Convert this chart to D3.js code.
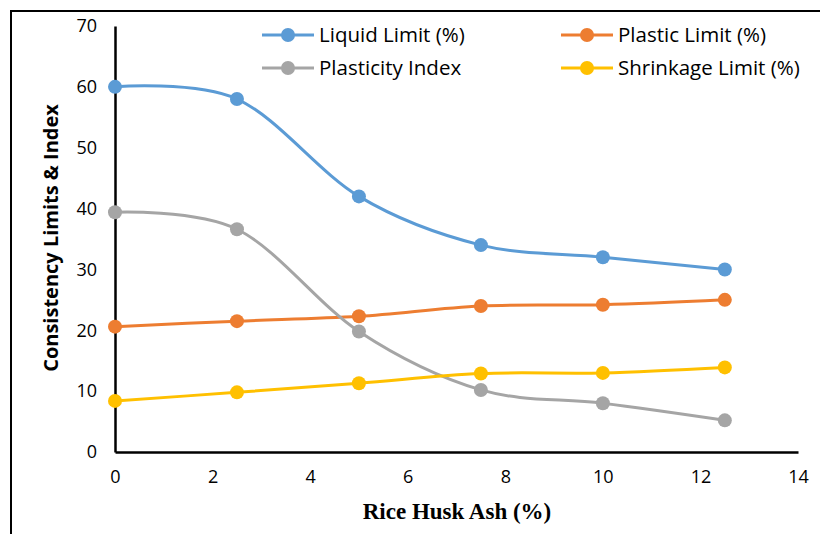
<!DOCTYPE html>
<html>
<head>
<meta charset="utf-8">
<script src="https://cdn.jsdelivr.net/npm/d3@7"></script>
<style>
  body { margin: 0; background: #fff; }
  svg { display: block; }
</style>
</head>
<body>
<div id="chart"></div>
<script>
// Consistency limits vs rice husk ash content
const rhaContent = [0, 2.5, 5, 7.5, 10, 12.5];
const liquidLimit = [60, 58, 42, 34, 32, 30];
const plasticLimit = [20.6, 21.5, 22.3, 24.0, 24.2, 25.0];
const plasticityIndex = [39.4, 36.6, 19.8, 10.2, 8.0, 5.2];
const shrinkageLimit = [8.4, 9.8, 11.3, 12.9, 13.0, 13.9];
const seriesNames = ["Liquid Limit (%)", "Plastic Limit (%)", "Plasticity Index", "Shrinkage Limit (%)"];
const seriesColors = ["#5B9BD5", "#ED7D31", "#A5A5A5", "#FFC000"];
const xTicks = [0, 2, 4, 6, 8, 10, 12, 14];
const yTicks = [0, 10, 20, 30, 40, 50, 60, 70];

const W = 820, H = 534;
const margin = { top: 26, right: 22, bottom: 82, left: 115 };
const width = W - margin.left - margin.right;
const height = H - margin.top - margin.bottom;

const svg = d3.select("#chart").append("svg")
    .attr("width", W)
    .attr("height", H);

// outer frame
svg.append("rect")
    .attr("x", 11).attr("y", 11)
    .attr("width", W + 20).attr("height", H + 20)
    .attr("fill", "none")
    .attr("stroke", "#000")
    .attr("stroke-width", 2);

const g = svg.append("g")
    .attr("transform", `translate(${margin.left},${margin.top})`);

const x = d3.scaleLinear().domain([0, 14]).range([0, width]);
const y = d3.scaleLinear().domain([0, 70]).range([height, 0]);

const tickFont = "'Open Sans', sans-serif";

// axes
const xAxis = g.append("g")
    .attr("transform", `translate(0,${height})`)
    .call(d3.axisBottom(x).tickValues(xTicks).tickSize(0).tickPadding(18).tickFormat(d3.format("d")));
xAxis.select(".domain").attr("stroke", "#000").attr("stroke-width", 2.5);
xAxis.selectAll("text")
    .style("font-family", tickFont).style("font-size", "18px").attr("fill", "#000");

const yAxis = g.append("g")
    .call(d3.axisLeft(y).tickValues(yTicks).tickSize(0).tickPadding(18).tickFormat(d3.format("d")));
yAxis.select(".domain").attr("stroke", "#000").attr("stroke-width", 2.5);
yAxis.selectAll("text")
    .style("font-family", tickFont).style("font-size", "18px").attr("fill", "#000");

// series
const allSeries = [liquidLimit, plasticLimit, plasticityIndex, shrinkageLimit].map((vals, i) => ({
    name: seriesNames[i],
    color: seriesColors[i],
    values: vals.map((v, j) => ({ x: rhaContent[j], y: v }))
}));

const line = d3.line()
    .x(d => x(d.x))
    .y(d => y(d.y))
    .curve(d3.curveCatmullRom.alpha(0));

// draw in Excel order so later series sit on top
allSeries.forEach(s => {
    g.append("path")
        .datum(s.values)
        .attr("fill", "none")
        .attr("stroke", s.color)
        .attr("stroke-width", 3)
        .attr("d", line);
    g.selectAll(null)
        .data(s.values)
        .enter().append("circle")
        .attr("cx", d => x(d.x))
        .attr("cy", d => y(d.y))
        .attr("r", 7)
        .attr("fill", s.color);
});

// legend
const legendPos = [[262, 35], [561, 35], [262, 68], [561, 68]];
allSeries.forEach((s, i) => {
    const [lx, ly] = legendPos[i];
    const lg = svg.append("g").attr("transform", `translate(${lx},${ly})`);
    lg.append("line")
        .attr("x1", 0).attr("x2", 52)
        .attr("stroke", s.color).attr("stroke-width", 3);
    lg.append("circle").attr("cx", 26).attr("r", 7).attr("fill", s.color);
    lg.append("text")
        .attr("x", 57).attr("dy", "0.36em")
        .style("font-family", tickFont).style("font-size", "20.5px")
        .attr("fill", "#000")
        .text(s.name);
});

// axis titles
svg.append("text")
    .attr("x", 457)
    .attr("y", 519)
    .attr("text-anchor", "middle")
    .style("font-family", "'Liberation Serif', 'Times New Roman', serif")
    .style("font-weight", "bold")
    .style("font-size", "23px")
    .text("Rice Husk Ash (%)");

svg.append("text")
    .attr("transform", `translate(58,238) rotate(-90)`)
    .attr("text-anchor", "middle")
    .style("font-family", tickFont)
    .style("font-weight", "bold")
    .style("font-size", "20px")
    .text("Consistency Limits & Index");
</script>
</body>
</html>
